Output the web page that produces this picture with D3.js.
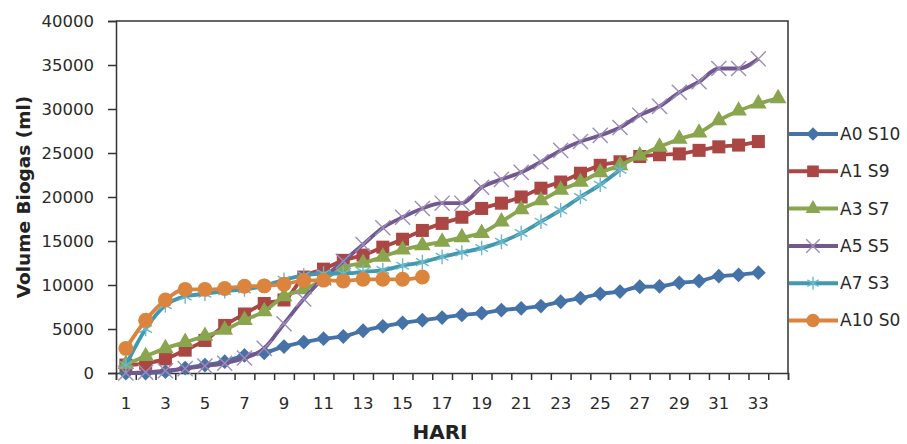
<!DOCTYPE html>
<html>
<head>
<meta charset="utf-8">
<script src="https://cdn.jsdelivr.net/npm/d3@7"></script>
<style>
  body { margin: 0; background: #fff; }
  svg { display: block; font-family: "DejaVu Sans", sans-serif; }
</style>
</head>
<body>
<svg id="chart" width="907" height="444"></svg>
<script>
// days on the x axis
const days = [1,2,3,4,5,6,7,8,9,10,11,12,13,14,15,16,17,18,19,20,21,22,23,24,25,26,27,28,29,30,31,32,33,34];
const dayLabels = [1,3,5,7,9,11,13,15,17,19,21,23,25,27,29,31,33];
const yTicks = [0,5000,10000,15000,20000,25000,30000,35000,40000];

// cumulative biogas volume (ml)
const a0s10 = [0,0,150,560,900,1290,2000,2300,3000,3500,3900,4150,4800,5300,5700,6000,6300,6600,6800,7150,7350,7600,8100,8500,9000,9250,9800,9850,10250,10450,11000,11150,11400];
const a1s9 = [900,1100,1600,2600,3700,5400,6700,7900,8300,10900,11800,12800,13400,14300,15200,16200,17000,17700,18700,19300,20000,21000,21700,22700,23600,24000,24600,24800,24900,25300,25700,25900,26300];
const a3s7 = [1000,1900,2800,3500,4200,4900,6000,7000,8700,9500,10600,12000,12500,13200,14000,14500,14900,15400,15900,17200,18600,19600,20800,21700,22800,23600,24700,25700,26600,27300,28700,29800,30600,31200];
const a5s5 = [0,100,250,500,800,1100,1700,2800,5600,8400,10800,12700,14600,16500,17700,18700,19300,19300,21100,22000,22800,24000,25300,26300,27000,27900,29300,30300,31900,33100,34600,34600,35700];
const a7s3 = [900,5000,7700,8700,9000,9300,9500,9900,10600,11100,11300,11300,11500,11700,12200,12600,13200,13700,14200,14900,15900,17200,18500,20000,21400,23100];
const a10s0 = [2800,6000,8300,9500,9500,9600,9850,9900,10100,10500,10550,10450,10650,10650,10650,10900];

const seriesNames = ["A0 S10", "A1 S9", "A3 S7", "A5 S5", "A7 S3", "A10 S0"];
const seriesValues = [a0s10, a1s9, a3s7, a5s5, a7s3, a10s0];
const colors = ["#4573a7", "#aa4643", "#89a54e", "#71588f", "#4198af", "#db843d"];
const markColors = ["#4573a7", "#aa4643", "#89a54e", "#9c8db8", "#6cb8cc", "#db843d"];
const shapes = ["diamond", "square", "triangle", "times", "asterisk", "circle"];

const svg = d3.select("#chart");
const plotL = 116, plotR = 788, plotT = 21, plotB = 373;

const x = d3.scaleBand().domain(days).range([plotL, plotR]).padding(0);
const xEdge = d3.scaleLinear().domain([0, days.length]).range([plotL, plotR]);
const y = d3.scaleLinear().domain([0, 40000]).range([plotB, plotT]);

// plot frame (top and right)
svg.append("path")
  .attr("d", `M${plotL},${plotT}H${plotR}V${plotB}`)
  .attr("fill", "none").attr("stroke", "#333").attr("stroke-width", 1.5);

// y axis
const yAxis = svg.append("g")
  .attr("transform", `translate(${plotL},0)`)
  .call(d3.axisLeft(y).tickValues(yTicks).tickSize(8).tickPadding(14).tickFormat(d3.format("d")));

// x axis: ticks on category edges, labels on centres
const xTicks = svg.append("g")
  .attr("transform", `translate(0,${plotB})`)
  .call(d3.axisBottom(xEdge).ticks(days.length).tickSize(7).tickFormat(""));
const xLabels = svg.append("g")
  .attr("transform", `translate(0,${plotB})`)
  .call(d3.axisBottom(x).tickValues(dayLabels).tickSize(0).tickPadding(24));
xLabels.select(".domain").remove();

[yAxis, xTicks].forEach(g => {
  g.select(".domain").attr("stroke", "#333").attr("stroke-width", 1.5);
  g.selectAll(".tick line").attr("stroke", "#333").attr("stroke-width", 1.5);
});
svg.selectAll(".tick text")
  .attr("font-family", "DejaVu Sans")
  .attr("font-size", 16.5)
  .attr("fill", "#2a2a2a");

// axis titles
svg.append("text")
  .attr("x", 440).attr("y", 439)
  .attr("text-anchor", "middle")
  .attr("font-size", 20).attr("font-weight", "bold").attr("fill", "#222")
  .text("HARI");
svg.append("text")
  .attr("transform", `translate(30,${(plotT + plotB) / 2}) rotate(-90)`)
  .attr("text-anchor", "middle")
  .attr("font-size", 18.5).attr("font-weight", "bold").attr("fill", "#222")
  .text("Volume Biogas (ml)");

function symbolPath(shape, scale) {
  const s = scale || 1;
  if (shape === "diamond") return d3.symbol(d3.symbolSquare, 110 * s)();
  if (shape === "square") return d3.symbol(d3.symbolSquare, 170 * s)();
  if (shape === "triangle") return d3.symbol(d3.symbolTriangle, 120 * s)();
  if (shape === "times") return d3.symbol(d3.symbolTimes || d3.symbolX, 150 * s)();
  if (shape === "asterisk") return d3.symbol(d3.symbolAsterisk, 150 * s)();
  return d3.symbol(d3.symbolCircle, 175 * s)();
}
const stroked = sh => sh === "times" || sh === "asterisk";

function addMarker(g, shape, i, cx, cy, scale) {
  const m = g.append("path")
    .attr("d", symbolPath(shape, scale))
    .attr("transform", `translate(${cx},${cy})` + (shape === "diamond" ? " rotate(45)" : ""));
  if (stroked(shape)) m.attr("fill", "none").attr("stroke", markColors[i]).attr("stroke-width", 1.4);
  else m.attr("fill", markColors[i]);
}

const line = d3.line()
  .x((d, j) => x(days[j]) + x.bandwidth() / 2)
  .y(d => y(d))
  .curve(d3.curveMonotoneX);

seriesValues.forEach((vals, i) => {
  const g = svg.append("g");
  g.append("path")
    .attr("d", line(vals))
    .attr("fill", "none")
    .attr("stroke", colors[i])
    .attr("stroke-width", 3.8)
    .attr("stroke-linejoin", "round");
  vals.forEach((v, j) => addMarker(g, shapes[i], i, x(days[j]) + x.bandwidth() / 2, y(v)));
});

// legend
const legend = svg.append("g");
seriesNames.forEach((name, i) => {
  const ly = 134 + i * 37.3;
  legend.append("line")
    .attr("x1", 789).attr("x2", 838).attr("y1", ly).attr("y2", ly)
    .attr("stroke", colors[i]).attr("stroke-width", 4);
  addMarker(legend, shapes[i], i, 813, ly, 0.8);
  legend.append("text")
    .attr("x", 840).attr("y", ly).attr("dy", "0.35em")
    .attr("font-size", 17).attr("fill", "#2a2a2a")
    .text(name);
});
</script>
</body>
</html>
